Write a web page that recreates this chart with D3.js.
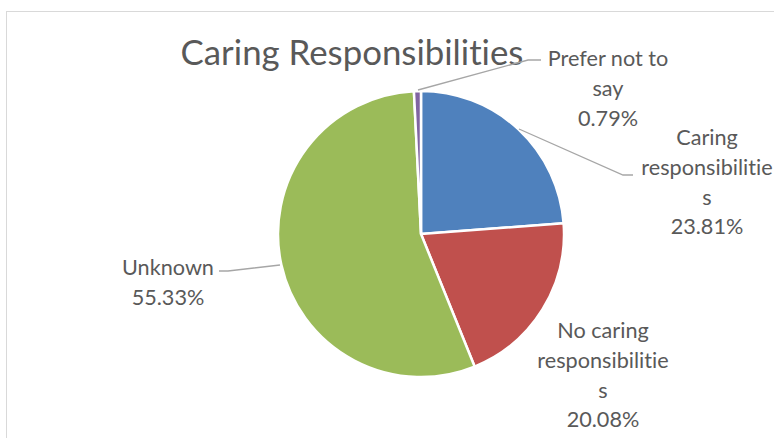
<!DOCTYPE html>
<html><head><meta charset="utf-8">
<script src="https://cdn.jsdelivr.net/npm/d3@7"></script>
<style>html,body{margin:0;padding:0;background:#fff;}svg{display:block;}text{font-variant-ligatures:none;font-feature-settings:"liga" 0,"clig" 0;}</style>
</head><body>
<svg id="c" width="774" height="438"></svg>
<script>
const categories = ["Caring responsibilities", "No caring responsibilities", "Unknown", "Prefer not to say"];
const values = [23.81, 20.08, 55.33, 0.79];
const colors = ["#4F81BD", "#C0504D", "#9BBB59", "#8064A2"];
const labelLines = [
  ["Caring", "responsibilitie", "s", "23.81%"],
  ["No caring", "responsibilitie", "s", "20.08%"],
  ["Unknown", "55.33%"],
  ["Prefer not to", "say", "0.79%"]
];
const title = "Caring Responsibilities";

const svg = d3.select("#c");
const FONT = "Lato, 'Open Sans', sans-serif";
const textColor = "#595959";

svg.append("rect").attr("x", 6.5).attr("y", 11.5).attr("width", 800).attr("height", 500)
  .attr("fill", "#fff").attr("stroke", "#d9d9d9").attr("stroke-width", 1);

const cx = 421, cy = 234, R = 143;
const pie = d3.pie().sort(null).value(d => d)(values);
const arc = d3.arc().innerRadius(0).outerRadius(R);
const g = svg.append("g").attr("transform", `translate(${cx},${cy})`);
g.selectAll("path").data(pie).join("path")
  .attr("d", arc).attr("fill", (d, i) => colors[i])
  .attr("stroke", "#fff").attr("stroke-width", 2.5).attr("stroke-linejoin", "round");

// title
const t = svg.append("text").attr("x", 352).attr("y", 65).attr("text-anchor", "middle")
  .attr("font-family", FONT).attr("font-size", 30).attr("fill", textColor).text(title);
{
  const w = t.node().getComputedTextLength();
  t.attr("font-size", 30 * 343 / w);
}

// labels
const labelPos = [
  {x: 707, y: 145},
  {x: 603, y: 338},
  {x: 168, y: 275},
  {x: 608, y: 66}
];
const lh = 29.8;
let fs = 18;
{
  const tmp = svg.append("text").attr("font-family", FONT).attr("font-size", 18).text("Unknown");
  fs = 18 * 92 / tmp.node().getComputedTextLength();
  tmp.remove();
}
labelLines.forEach((lines, i) => {
  const tx = svg.append("text").attr("text-anchor", "middle").attr("font-family", FONT)
    .attr("font-size", fs).attr("fill", textColor);
  lines.forEach((s, j) => {
    tx.append("tspan").attr("x", labelPos[i].x).attr("y", labelPos[i].y + j * lh).text(s);
  });
});

// leader lines
const leaderColor = "#a6a6a6";
const leaders = [
  [[519, 129], [623, 175], [633, 175]],
  null,
  [[280, 265], [228, 271], [219, 271]],
  [[418, 90], [528, 60], [541, 60]]
];
leaders.forEach(pts => {
  if (!pts) return;
  svg.append("path").attr("d", d3.line()(pts)).attr("fill", "none")
    .attr("stroke", leaderColor).attr("stroke-width", 1.3);
});
</script>
</body></html>
